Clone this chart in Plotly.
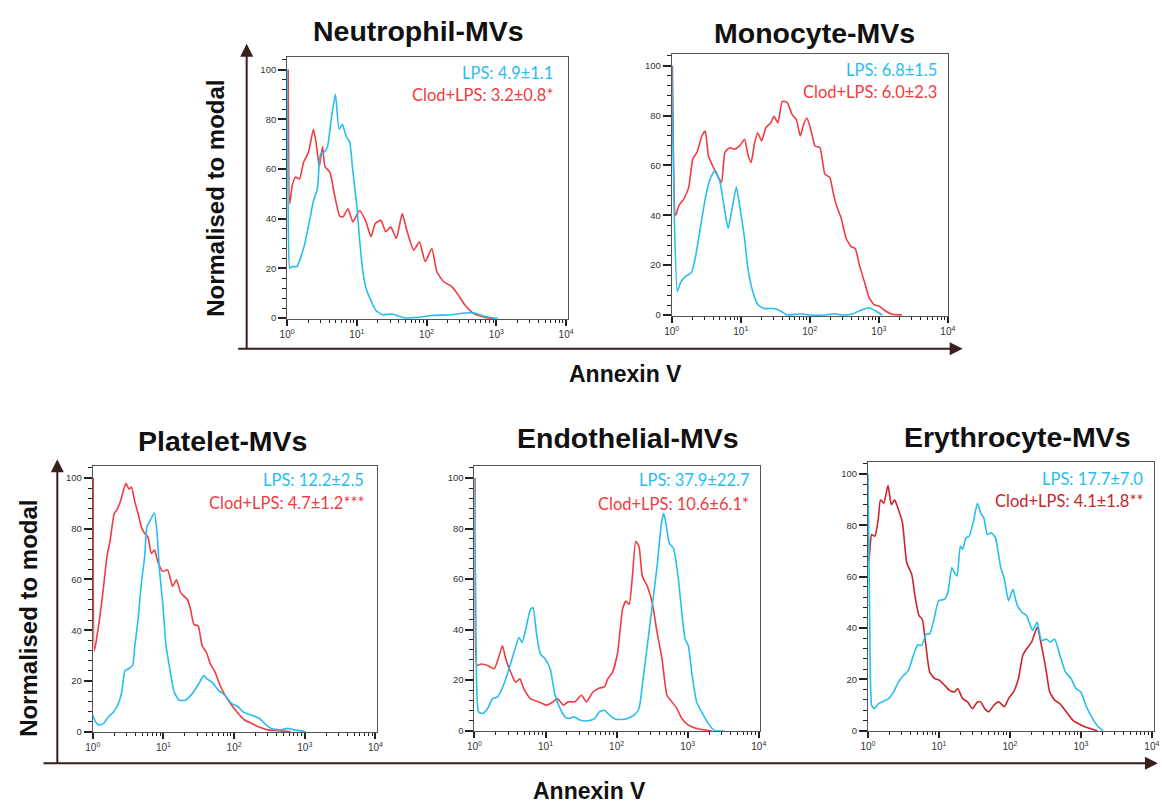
import plotly.graph_objects as go

W, H = 1162, 807


def fx(p):
    return p / W


def fy(p):
    return 1 - p / H


LPS_BLUE = "#26BEEF"
CLOD_RED = "#F23B40"
CLOD_RED_DARK = "#C9252B"
ARROW_BROWN = "#3A1E1E"
TICK_DARK = "#222222"

# ---------------------------------------------------------------- data
titles = ["Neutrophil-MVs", "Monocyte-MVs", "Platelet-MVs", "Endothelial-MVs", "Erythrocyte-MVs"]
lps_text = ["LPS: 4.9±1.1", "LPS: 6.8±1.5", "LPS: 12.2±2.5", "LPS: 37.9±22.7", "LPS: 17.7±7.0"]
clod_text = ["Clod+LPS: 3.2±0.8*", "Clod+LPS: 6.0±2.3", "Clod+LPS: 4.7±1.2***",
             "Clod+LPS: 10.6±6.1*", "Clod+LPS: 4.1±1.8**"]

# decade labels shown as powers of ten
x_tick_alias = {"1": "10<sup>0</sup>", "10": "10<sup>1</sup>", "100": "10<sup>2</sup>",
                "1000": "10<sup>3</sup>", "1,000": "10<sup>3</sup>",
                "10000": "10<sup>4</sup>", "10,000": "10<sup>4</sup>", "10k": "10<sup>4</sup>"}

# Histograms: log10 Annexin V intensity and % of mode
neut_lps_log = [0.0, 0.014, 0.038, 0.071, 0.142, 0.189, 0.245, 0.307, 0.377, 0.434, 0.481, 0.542, 0.580,
                0.637, 0.693, 0.745, 0.792, 0.849, 0.896, 0.943, 1.0, 1.038, 1.085, 1.132, 1.203, 1.274,
                1.368, 1.509, 1.604, 1.698, 1.887, 2.075, 2.358, 2.547, 2.689, 2.830, 2.972, 3.019]
neut_lps_pct = [100, 45, 20, 20.7, 20.7, 24, 29, 37, 47, 52, 66, 67, 69, 81, 90, 76, 78, 73, 71, 59,
                45, 32, 19, 12, 7, 3, 1.3, 1.6, 0.7, 0, 0.3, 1, 1.3, 2, 2, 0.7, 0, 0]
neut_clod_log = [0.015, 0.038, 0.071, 0.118, 0.179, 0.236, 0.307, 0.377, 0.415, 0.462, 0.509, 0.542,
                 0.613, 0.684, 0.755, 0.802, 0.873, 0.943, 1.038, 1.132, 1.203, 1.264, 1.344, 1.415,
                 1.486, 1.566, 1.651, 1.722, 1.816, 1.896, 1.981, 2.075, 2.146, 2.241, 2.358, 2.453,
                 2.547, 2.665, 2.783, 2.877, 2.972]
neut_clod_pct = [100, 46, 53, 56.7, 56, 62.7, 66.7, 76, 70.7, 61, 69, 61, 58.7, 49, 41, 40.7, 44, 38.7,
                 43.3, 38.7, 32.7, 38, 39.3, 34.7, 36.7, 32, 42, 34.7, 27.3, 30.7, 22.7, 28, 18.7, 14.7,
                 12.7, 9.3, 5.3, 2, 0.7, 0, 0]

mono_lps_log = [0, 0.033, 0.081, 0.128, 0.2, 0.285, 0.342, 0.413, 0.485, 0.556, 0.627, 0.698, 0.770,
                0.817, 0.874, 0.936, 0.983, 1.055, 1.102, 1.173, 1.245, 1.340, 1.482, 1.577, 1.672,
                1.862, 2.005, 2.195, 2.361, 2.480, 2.622, 2.741, 2.860, 2.955, 3.050]
mono_lps_pct = [100, 44, 9.5, 13, 15.5, 17, 23, 34.7, 46.6, 54.6, 58, 53.4, 41.5, 34.7, 42.6, 51.3, 44,
                30.7, 18.8, 9.5, 4.2, 2.6, 2.6, 1.6, 0, 0.5, 0, 0, 0.5, 0, 0.5, 1.9, 2.9, 1.6, 0]
mono_clod_log = [0.01, 0.057, 0.105, 0.176, 0.247, 0.304, 0.366, 0.437, 0.485, 0.532, 0.603, 0.675,
                 0.722, 0.770, 0.841, 0.912, 0.983, 1.055, 1.102, 1.150, 1.197, 1.245, 1.302, 1.363,
                 1.435, 1.482, 1.539, 1.601, 1.672, 1.743, 1.805, 1.862, 1.910, 1.957, 2.014, 2.076,
                 2.147, 2.219, 2.290, 2.337, 2.385, 2.456, 2.527, 2.599, 2.660, 2.717, 2.789, 2.860,
                 2.931, 3.002, 3.097, 3.192, 3.335]
mono_clod_pct = [100, 40, 44, 46.6, 51.3, 62.5, 65.2, 71.8, 73.8, 63.8, 59.2, 55.2, 53.2, 65.2, 67.1,
                 66.5, 67.8, 70.5, 64.5, 61.2, 68.5, 73.1, 69.8, 75.1, 77.1, 79.7, 77.1, 85.7, 85.3,
                 80.4, 78.4, 71.8, 76.4, 79, 74.4, 67.8, 67.1, 56.5, 55.2, 49.3, 44, 38.7, 30.7, 27.4,
                 26.6, 20.1, 13.5, 6.9, 4.2, 3.6, 1.6, 0.3, 0]

plt_lps_log = [0, 0.037, 0.084, 0.153, 0.223, 0.293, 0.362, 0.409, 0.455, 0.502, 0.562, 0.595, 0.641,
               0.687, 0.734, 0.766, 0.813, 0.850, 0.873, 0.906, 0.943, 0.989, 1.036, 1.082, 1.152,
               1.222, 1.314, 1.407, 1.500, 1.570, 1.616, 1.686, 1.779, 1.872, 1.965, 2.058, 2.127,
               2.243, 2.360, 2.429, 2.522, 2.661, 2.754, 2.847, 3.010]
plt_lps_pct = [6.5, 3.9, 2.6, 3.3, 5.9, 7.8, 11.1, 15.6, 24.1, 24.7, 26, 33.9, 44.3, 58.6, 69, 80.7,
               83.3, 85.3, 86.2, 79.4, 63.8, 50.8, 33.9, 26, 15.6, 12.4, 12.4, 15, 18.9, 22.1, 20.8,
               19.5, 16.3, 14.3, 11.1, 9.8, 7.8, 6.5, 5.2, 3.3, 1.3, 0.7, 1.3, 0.7, 0]
plt_clod_log = [0.005, 0.023, 0.060, 0.107, 0.153, 0.200, 0.246, 0.302, 0.348, 0.395, 0.432, 0.469,
                0.511, 0.548, 0.595, 0.641, 0.687, 0.734, 0.780, 0.827, 0.873, 0.920, 0.989, 1.059,
                1.129, 1.184, 1.245, 1.338, 1.384, 1.431, 1.491, 1.547, 1.607, 1.663, 1.732, 1.802,
                1.872, 1.965, 2.058, 2.150, 2.243, 2.336, 2.476, 2.661, 2.801]
plt_clod_pct = [100, 31.9, 37.8, 46.9, 57.3, 69, 75.5, 85.9, 87.8, 91.1, 95, 97.9, 95.7, 96.4, 90.6,
                85.9, 80.7, 78.1, 76.8, 70.3, 71.6, 67, 63.2, 63.8, 57.3, 59.9, 54.7, 52.1, 48.2, 42.3,
                41.7, 33.9, 31.3, 26.7, 23.4, 18.2, 14.3, 10.4, 7.2, 4.6, 3.3, 2, 0.7, 0.3, 0]

endo_lps_log = [0, 0.023, 0.056, 0.116, 0.185, 0.255, 0.324, 0.407, 0.472, 0.556, 0.625, 0.671, 0.731,
                0.787, 0.824, 0.870, 0.926, 0.995, 1.065, 1.134, 1.204, 1.273, 1.333, 1.398, 1.481,
                1.597, 1.690, 1.759, 1.829, 1.898, 1.991, 2.130, 2.245, 2.315, 2.361, 2.431, 2.500,
                2.569, 2.630, 2.662, 2.694, 2.741, 2.801, 2.870, 2.917, 2.963, 3.009, 3.056, 3.125,
                3.194, 3.287, 3.380, 3.519]
endo_lps_pct = [100, 33.6, 7.5, 6.8, 8.8, 12.7, 13.4, 17.9, 23.2, 31, 36.9, 34.9, 41.5, 48, 48.7, 38.9,
                30.4, 28.4, 24.5, 14, 8.8, 5.5, 4.8, 5.5, 4.2, 3.9, 4.8, 7.5, 8.1, 6.2, 4.5, 4.6, 6.2,
                8.8, 17.9, 33.6, 49.3, 65, 82, 86, 82, 74.2, 72.1, 59.8, 46.7, 36.3, 33.6, 23.2, 11.4,
                7.5, 2.9, 0, 0]
endo_clod_log = [0.009, 0.037, 0.093, 0.185, 0.278, 0.333, 0.394, 0.440, 0.509, 0.579, 0.639, 0.694,
                 0.787, 0.903, 1.019, 1.102, 1.167, 1.250, 1.319, 1.412, 1.505, 1.574, 1.667, 1.759,
                 1.829, 1.875, 1.944, 2.014, 2.083, 2.130, 2.176, 2.222, 2.269, 2.315, 2.361, 2.431,
                 2.500, 2.569, 2.639, 2.708, 2.778, 2.847, 2.917, 3.009, 3.125, 3.241, 3.333]
endo_clod_pct = [100, 25.8, 26.4, 25.8, 24.5, 28.4, 33.6, 28.4, 23.2, 19.2, 20.5, 16.6, 12.7, 11.4,
                 10.1, 11.4, 12.7, 10.1, 11.4, 11.4, 14, 11.4, 15.3, 16.9, 17.3, 20.5, 23.2, 31, 48,
                 51.3, 50, 61.1, 74.9, 72.9, 61.1, 57.2, 50.7, 38.9, 28.4, 14, 11.4, 8.8, 4.8, 2.2,
                 0.9, 0.3, 0]

ery_lps_log = [0, 0.023, 0.051, 0.083, 0.153, 0.222, 0.292, 0.361, 0.431, 0.5, 0.569, 0.639, 0.699,
               0.755, 0.824, 0.870, 0.931, 0.995, 1.079, 1.125, 1.181, 1.218, 1.255, 1.301, 1.333,
               1.380, 1.426, 1.486, 1.542, 1.588, 1.634, 1.681, 1.736, 1.796, 1.866, 1.921, 1.981,
               2.042, 2.097, 2.167, 2.236, 2.319, 2.384, 2.444, 2.514, 2.569, 2.630, 2.699, 2.782,
               2.861, 2.931, 3.0, 3.069, 3.162, 3.245, 3.310]
ery_lps_pct = [100, 46, 9.9, 8.6, 10.6, 11.5, 12.5, 15.1, 19, 21.5, 23.5, 29.3, 33.4, 33.2, 37.7, 37.7,
               43.5, 50.6, 51.2, 53.8, 63.5, 61.5, 60.3, 71.9, 70.6, 75.1, 75.7, 81.5, 88.6, 84.8,
               82.8, 76.4, 77.1, 75.1, 64.1, 59, 50.6, 55.1, 49.3, 46.1, 44.8, 39, 42.2, 35.1, 35.7,
               34.5, 35.7, 29.9, 22.8, 20.3, 16.4, 15.1, 9.9, 4.8, 1.5, 0]
ery_clod_log = [0.01, 0.023, 0.051, 0.097, 0.144, 0.176, 0.222, 0.282, 0.329, 0.375, 0.421, 0.486,
                0.546, 0.616, 0.662, 0.718, 0.764, 0.810, 0.870, 0.940, 1.009, 1.079, 1.148, 1.218,
                1.264, 1.333, 1.403, 1.472, 1.542, 1.588, 1.644, 1.704, 1.773, 1.843, 1.921, 1.981,
                2.051, 2.120, 2.181, 2.236, 2.306, 2.384, 2.444, 2.514, 2.560, 2.630, 2.699, 2.792,
                2.884, 3.0, 3.116, 3.231]
ery_clod_pct = [66, 69.3, 76.4, 75.7, 82.2, 89.9, 88.6, 95.5, 88, 89.9, 86.7, 80.9, 65.4, 60.9, 52.5,
                44.8, 43.5, 34.5, 22.8, 20.3, 19.6, 17.7, 15.7, 15.1, 16.4, 12.5, 11.2, 8.6, 11.2,
                11.2, 8.6, 7.4, 9.9, 11.2, 9.3, 12.5, 15.1, 20.3, 29.3, 31.9, 34.5, 40.3, 33.2, 22.8,
                15.1, 11.9, 10.6, 7.4, 4.1, 2.2, 0.9, 0]

series = [
    (neut_lps_log, neut_lps_pct, neut_clod_log, neut_clod_pct, CLOD_RED),
    (mono_lps_log, mono_lps_pct, mono_clod_log, mono_clod_pct, CLOD_RED),
    (plt_lps_log, plt_lps_pct, plt_clod_log, plt_clod_pct, CLOD_RED),
    (endo_lps_log, endo_lps_pct, endo_clod_log, endo_clod_pct, CLOD_RED),
    (ery_lps_log, ery_lps_pct, ery_clod_log, ery_clod_pct, CLOD_RED_DARK),
]

# ---------------------------------------------------------------- layout geometry (pixels)
# frame: left, right, top, bottom; axis ranges; title centre; stats text anchor
panels = [
    dict(l=283, r=568, t=57, b=321, xmax=4.03, ymin=-0.4, ymax=105.2,
         title=(416, 31), stats=(555, 73, 96)),
    dict(l=673, r=953, t=54, b=318, xmax=4.0, ymin=-0.4, ymax=104.8,
         title=(818, 33), stats=(944, 70, 93)),
    dict(l=86, r=374, t=469, b=737, xmax=4.02, ymin=-0.3, ymax=104.7,
         title=(218, 444), stats=(363, 483, 506)),
    dict(l=473, r=762, t=469, b=736, xmax=4.01, ymin=-0.3, ymax=104.7,
         title=(629, 441), stats=(753, 483, 507)),
    dict(l=872, r=1162, t=465, b=736, xmax=4.03, ymin=-0.3, ymax=104.6,
         title=(1023, 440), stats=(1153, 482, 504)),
]

FONT = "Liberation Sans, Arial, sans-serif"
STAT_FONT = "Lato, Liberation Sans, sans-serif"

fig = go.Figure()
layout = dict(
    width=W, height=H, margin=dict(l=0, r=0, t=0, b=0),
    paper_bgcolor="white", plot_bgcolor="white", showlegend=False,
    annotations=[],
)

for i, (p, s) in enumerate(zip(panels, series)):
    n = i + 1
    xa = "x" if n == 1 else f"x{n}"
    ya = "y" if n == 1 else f"y{n}"
    lps_log, lps_pct, clod_log, clod_pct, red = s

    fig.add_trace(go.Scatter(
        x=[10 ** v for v in clod_log], y=clod_pct, mode="lines", name="Clod+LPS",
        line=dict(color=red, width=1.6, shape="spline", smoothing=0.5),
        xaxis=xa, yaxis=ya))
    fig.add_trace(go.Scatter(
        x=[10 ** v for v in lps_log], y=lps_pct, mode="lines", name="LPS",
        line=dict(color=LPS_BLUE, width=1.6, shape="spline", smoothing=0.5),
        xaxis=xa, yaxis=ya))

    layout["xaxis" if n == 1 else f"xaxis{n}"] = dict(
        type="log", domain=[fx(p["l"]), fx(p["r"])], range=[0, p["xmax"]],
        anchor=ya, showgrid=False,
        showline=True, linecolor="#555555", mirror=True,
        dtick=1, exponentformat="none", labelalias=x_tick_alias,
        ticks="outside", ticklen=6, tickwidth=2, tickcolor=TICK_DARK,
        tickfont=dict(family=FONT, size=10, color="#333333"),
        minor=dict(dtick="D1", ticks="outside", ticklen=3, tickwidth=1, tickcolor=TICK_DARK),
    )
    layout["yaxis" if n == 1 else f"yaxis{n}"] = dict(
        domain=[fy(p["b"]), fy(p["t"])], range=[p["ymin"], p["ymax"]],
        anchor=xa, showgrid=False, zeroline=False,
        showline=True, linecolor="#555555", mirror=True,
        dtick=20, tick0=0,
        ticks="outside", ticklen=8, tickwidth=2, tickcolor=TICK_DARK,
        tickfont=dict(family=FONT, size=9.5, color="#333333"),
        minor=dict(dtick=4, tick0=0, ticks="outside", ticklen=4, tickwidth=1,
                   tickcolor=TICK_DARK, showgrid=False),
    )

    tx, ty = p["title"]
    layout["annotations"].append(dict(
        text=f"<b>{titles[i]}</b>", x=fx(tx), y=fy(ty), xref="paper", yref="paper",
        xanchor="center", yanchor="middle", showarrow=False,
        font=dict(family=FONT, size=28.5, color="#111111")))
    sx, sy1, sy2 = p["stats"]
    layout["annotations"].append(dict(
        text=lps_text[i], x=fx(sx), y=fy(sy1), xref="paper", yref="paper",
        xanchor="right", yanchor="middle", showarrow=False,
        font=dict(family=STAT_FONT, size=16.5, color=LPS_BLUE)))
    layout["annotations"].append(dict(
        text=clod_text[i], x=fx(sx), y=fy(sy2), xref="paper", yref="paper",
        xanchor="right", yanchor="middle", showarrow=False,
        font=dict(family=STAT_FONT, size=16.5, color=red)))

# shared axis titles for each row
for (tx, ty) in [(211, 200), (20, 622)]:
    layout["annotations"].append(dict(
        text="<b>Normalised to modal</b>", x=fx(tx), y=fy(ty), xref="paper", yref="paper",
        xanchor="center", yanchor="middle", textangle=-90, showarrow=False,
        font=dict(family=FONT, size=24, color="#111111")))
for (tx, ty) in [(626, 376), (590, 796)]:
    layout["annotations"].append(dict(
        text="<b>Annexin V</b>", x=fx(tx), y=fy(ty), xref="paper", yref="paper",
        xanchor="center", yanchor="middle", showarrow=False,
        font=dict(family=FONT, size=23, color="#111111")))


# L-shaped arrows framing each row, drawn as annotation arrows from the shared corner
def arrow(tip_x, tip_y, corner_x, corner_y):
    return dict(
        text="", x=fx(tip_x), y=fy(tip_y), xref="paper", yref="paper",
        ax=corner_x - tip_x, ay=corner_y - tip_y,
        showarrow=True, arrowhead=2, arrowsize=1.3, arrowwidth=2,
        arrowcolor=ARROW_BROWN, standoff=0, startstandoff=0)


layout["annotations"] += [arrow(242, 44, 242, 351), arrow(968, 351, 242, 351),
                          arrow(50, 462, 50, 768), arrow(1166, 768, 50, 768)]

fig.update_layout(**layout)
fig.write_html("out.html")
